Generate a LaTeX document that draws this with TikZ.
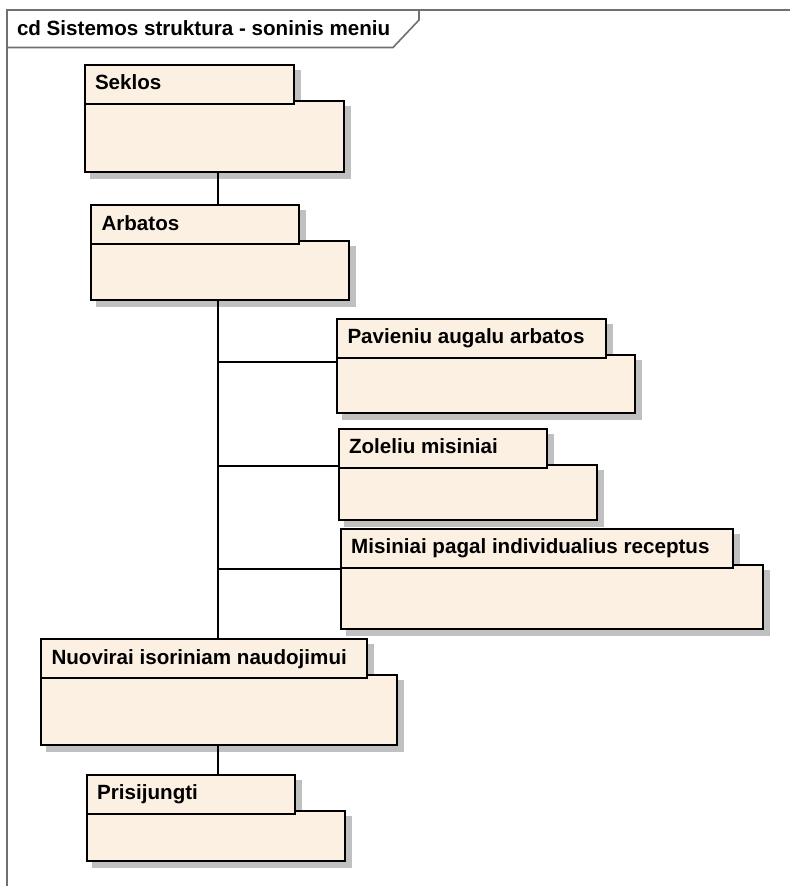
\documentclass[tikz,border=0pt]{standalone}
\usepackage{fontspec}
\setmainfont{Liberation Sans}
\usetikzlibrary{calc}

\definecolor{pkgfill}{HTML}{FBF0E2}
\definecolor{pkgshadow}{HTML}{C0C0C0}
\definecolor{framegray}{HTML}{707070}

\tikzset{
  pkgbody/.style={draw=black, line width=2pt, fill=pkgfill, rectangle,
    inner sep=0pt, outer sep=0pt, anchor=north west},
  pkgtab/.style={pkgbody},
  pkgshade/.style={draw=pkgshadow, fill=pkgshadow, line width=2pt, line join=miter},
  pkglabel/.style={inner sep=0pt, outer sep=0pt, anchor=base west,
    font=\fontsize{20.6}{24}\selectfont\bfseries},
  conn/.style={draw=black, line width=2pt},
  framepen/.style={draw=framegray, line width=1.6pt}
}

% \umlpkg{id}{left}{tab top}{tab right}{body right}{body bottom}{name}
\newcommand\umlpkg[7]{%
  \path[pkgshade] (#2+6,#3+6) -- (#4+6,#3+6) -- (#4+6,#3+42) -- (#5+6,#3+42)
    -- (#5+6,#6+6) -- (#2+6,#6+6) -- cycle;
  \node[pkgbody, minimum width={(#5-#2)*1pt}, minimum height={(#6-#3-36)*1pt}]
    (#1) at (#2,#3+36) {};
  \node[pkgtab, minimum width={(#4-#2)*1pt}, minimum height=39pt]
    (#1-tab) at (#2,#3) {};
  \node[pkglabel] (#1-name) at (#2+10.5,#3+25) {#7};
}

\begin{document}
\begin{tikzpicture}[x=1pt, y=-1pt]
  \useasboundingbox (0,0) rectangle (790,886);

  % diagram frame with its name tab
  \draw[framepen] (7,886) -- (7,10) -- (790,10);
  \draw[framepen] (7,47.5) -- (393,47.5) -- (419,20) -- (419,10);
  \node[pkglabel] (title) at (17,35) {cd Sistemos struktura - soninis meniu};

  % packages
  \umlpkg{seklos}{84.5}{64.5}{293.5}{343.5}{172}{Seklos}
  \umlpkg{arbatos}{91}{205}{299}{349.3}{300}{Arbatos}
  \umlpkg{pav}{337}{318.5}{605.7}{635}{412.5}{Pavieniu augalu arbatos}
  \umlpkg{zol}{338.5}{428.5}{547.3}{597.3}{519.5}{Zoleliu misiniai}
  \umlpkg{mis}{340.7}{528.5}{733.3}{763.3}{628.5}{Misiniai pagal individualius receptus}
  \umlpkg{nuo}{41}{639}{366.7}{397.3}{744.5}{Nuovirai isoriniam naudojimui}
  \umlpkg{pri}{86.7}{774.5}{295}{345}{860.5}{Prisijungti}

  % connectors
  \coordinate (trunk) at (218,0);
  \draw[conn] (seklos.south -| trunk) -- (arbatos-tab.north -| trunk);
  \draw[conn] (arbatos.south -| trunk) -- (nuo-tab.north -| trunk);
  \draw[conn] ($(pav-tab.south west)+(0,4)$) -- ($(pav-tab.south west -| trunk)+(0,4)$);
  \draw[conn] ($(zol-tab.south west)+(0,-1.5)$) -- ($(zol-tab.south west -| trunk)+(0,-1.5)$);
  \draw[conn] ($(mis-tab.south west)+(0,1.5)$) -- ($(mis-tab.south west -| trunk)+(0,1.5)$);
  \draw[conn] (nuo.south -| trunk) -- (pri-tab.north -| trunk);
\end{tikzpicture}
\end{document}
